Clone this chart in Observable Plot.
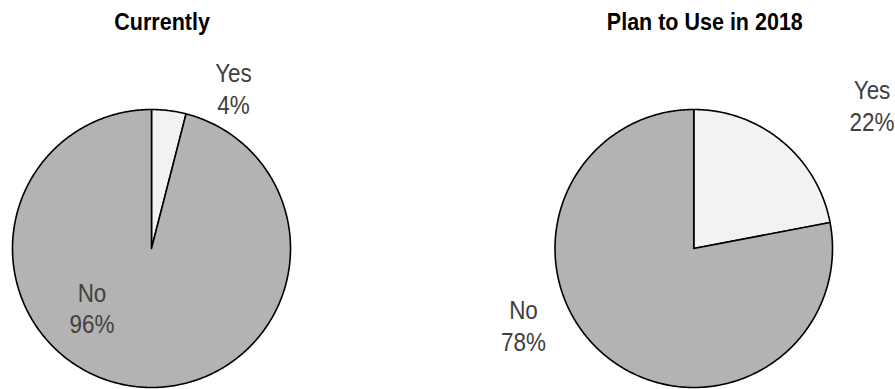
<!DOCTYPE html>
<html><head><meta charset="utf-8">
<script src="https://cdn.jsdelivr.net/npm/d3@7"></script>
<script src="https://cdn.jsdelivr.net/npm/@observablehq/plot@0.6"></script>
<style>
body{margin:0;background:#fff;font-family:"Liberation Sans",Arial,sans-serif;}
#wrap{position:relative;display:flex;width:895px;height:389px;overflow:hidden;}
.panel{position:relative;flex:none;height:389px;}
.title{position:absolute;top:10.5px;height:23px;line-height:23px;width:400px;text-align:center;font-weight:bold;font-size:23px;color:#000;white-space:nowrap;z-index:2;}
.title span{display:inline-block;transform:scaleX(0.935);transform-origin:center;}
.panel svg{overflow:visible;}
</style></head><body><div id="wrap"></div>
<script>
// ---- data ----
const panelTitles = ["Currently", "Plan to Use in 2018"];
const categories = ["Yes", "No"];
const currentValues = [4, 96];
const plannedValues = [22, 78];
const currentLabels = ["4%", "96%"];
const plannedLabels = ["22%", "78%"];

// ---- layout (pixels; label offsets in pie-radius units) ----
const layout = [
  {width: 302, marginLeft: 12, marginRight: 12, titleCenter: 162.5, labelPos: [[0.590, 1.155], [-0.428, -0.424]]},
  {width: 593, marginLeft: 252.5, marginRight: 63, titleCenter: 705 - 302, labelPos: [[1.285, 1.032], [-1.227, -0.549]]}
];
const svgHeight = 339, marginTop = 59, marginBottom = 2, titleHeight = 50;
const labelScaleX = 0.88;

function slicePoints(values) {
  const arcs = d3.pie().sort(null).value(d => d)(values);
  const pts = [];
  arcs.forEach((a, i) => {
    const cat = categories[i];
    pts.push({cat, x: 0, y: 0});
    const n = Math.max(2, Math.ceil((a.endAngle - a.startAngle) / (Math.PI / 360)));
    for (let k = 0; k <= n; k++) {
      const t = a.startAngle + (a.endAngle - a.startAngle) * k / n;
      pts.push({cat, x: Math.sin(t), y: Math.cos(t)});
    }
    pts.push({cat, x: 0, y: 0});
  });
  return pts;
}

const series = [
  {title: panelTitles[0], values: currentValues, labels: currentLabels},
  {title: panelTitles[1], values: plannedValues, labels: plannedLabels}
];

const wrap = document.getElementById("wrap");
series.forEach((s, p) => {
  const L = layout[p];
  const panel = document.createElement("div");
  panel.className = "panel";
  panel.style.width = L.width + "px";
  const title = document.createElement("div");
  title.className = "title";
  title.style.left = (L.titleCenter - 200) + "px";
  const span = document.createElement("span");
  span.textContent = s.title;
  title.appendChild(span);
  panel.appendChild(title);
  const labelData = categories.map((c, i) => ({cat: c, text: c + "\n" + s.labels[i], x: L.labelPos[i][0], y: L.labelPos[i][1]}));
  const chart = Plot.plot({
    width: L.width,
    height: svgHeight,
    marginLeft: L.marginLeft,
    marginRight: L.marginRight,
    marginTop: marginTop,
    marginBottom: marginBottom,
    x: {axis: null, domain: [-1, 1]},
    y: {axis: null, domain: [-1, 1]},
    color: {domain: categories, range: ["#f2f2f2", "#b3b3b3"]},
    style: {fontFamily: '"Liberation Sans",Arial,sans-serif', background: "transparent", overflow: "visible"},
    marks: [
      Plot.line(slicePoints(s.values), {x: "x", y: "y", z: "cat", fill: "cat", stroke: "#000", strokeWidth: 1.6, strokeLinejoin: "round"}),
      Plot.text(labelData, {x: "x", y: "y", text: "text", fontSize: 25.5, fill: "#404040", lineHeight: 1.235})
    ]
  });
  chart.style.position = "absolute";
  chart.style.top = titleHeight + "px";
  chart.style.left = "0px";
  // horizontally condense the label text (narrow typeface look)
  chart.querySelectorAll('g[aria-label="text"] text').forEach(t => {
    const tr = t.getAttribute("transform");
    if (tr && tr.includes("translate")) {
      t.setAttribute("transform", tr + ` scale(${labelScaleX},1)`);
    } else {
      const x = +t.getAttribute("x") || 0, y = +t.getAttribute("y") || 0;
      t.setAttribute("transform", `translate(${x},${y}) scale(${labelScaleX},1)`);
      t.setAttribute("x", 0); t.setAttribute("y", 0);
      t.querySelectorAll("tspan").forEach(ts => { if (ts.hasAttribute("x")) ts.setAttribute("x", 0); });
    }
  });
  panel.appendChild(chart);
  wrap.appendChild(panel);
});
</script></body></html>
